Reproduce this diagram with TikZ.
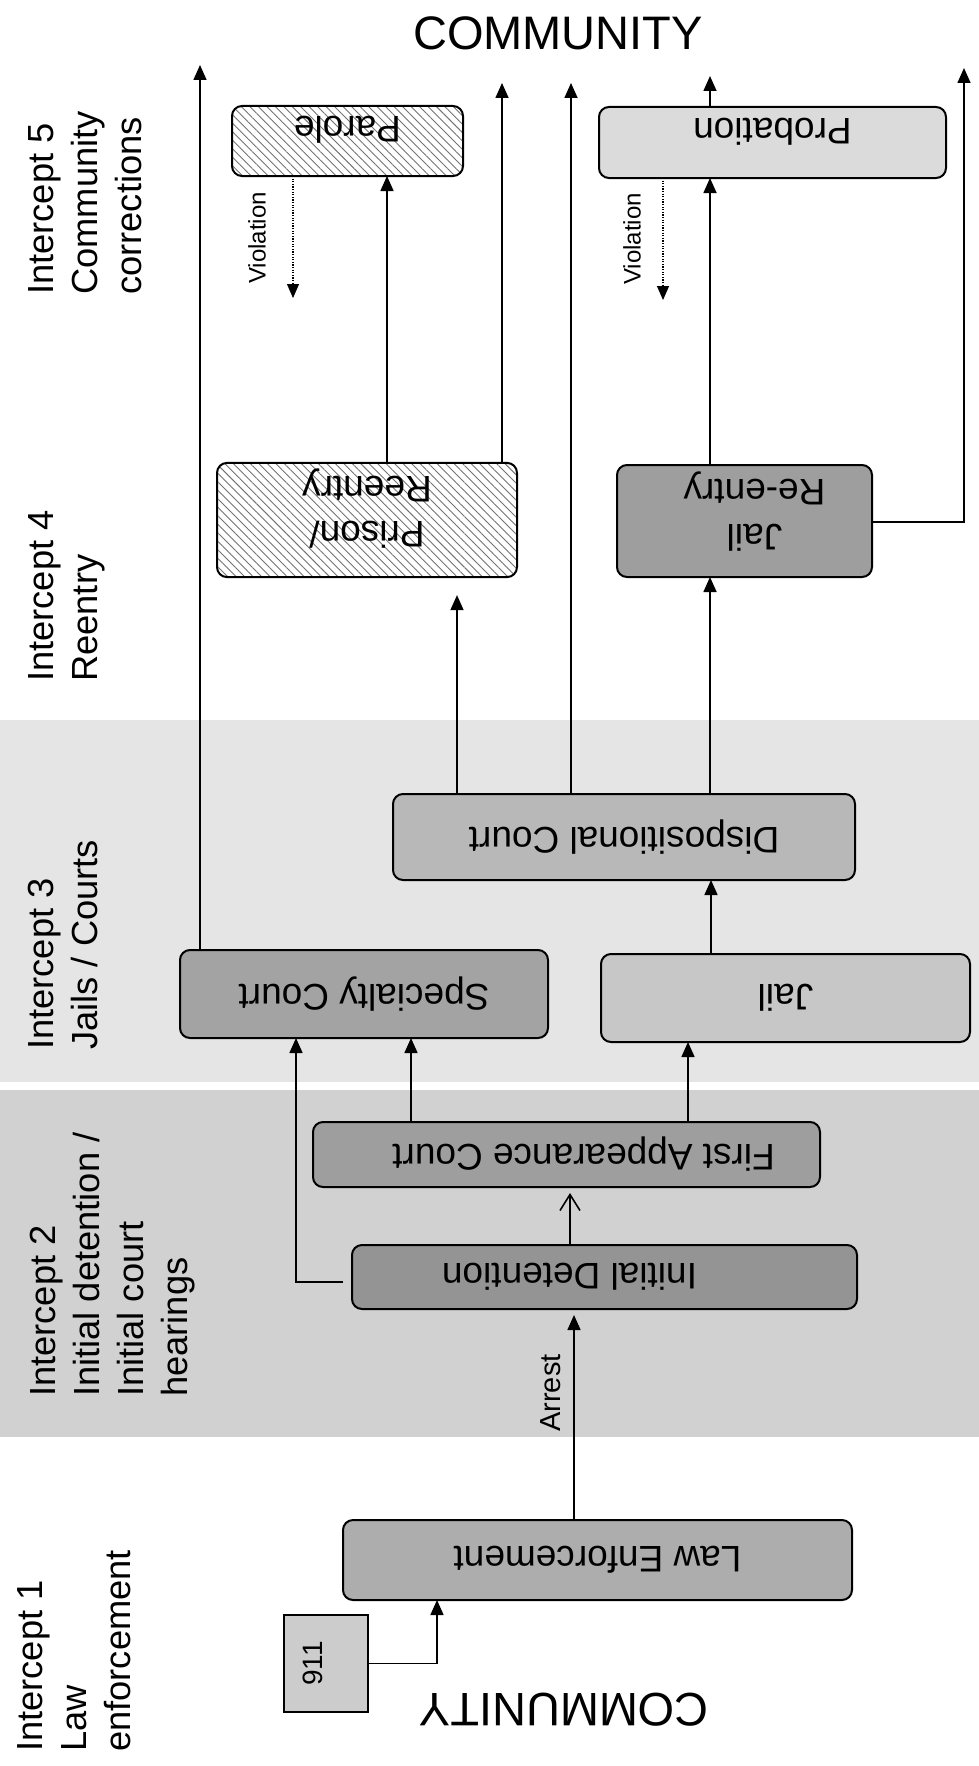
\documentclass[tikz,border=0pt]{standalone}
\usepackage{fontspec}
\setmainfont{Liberation Sans}
\usepackage{graphicx}
\usetikzlibrary{arrows.meta,patterns.meta}
\newcommand{\udtext}[1]{\rotatebox[origin=c]{180}{#1}}
\newcommand{\upby}[1]{\rule[-#1]{0pt}{0pt}}
\newcommand{\twoline}[2]{\begin{tabular}{@{}c@{}}#1\\#2\end{tabular}}
\begin{document}
\begin{tikzpicture}[x=1pt,y=-1pt,
  box/.style={draw, line width=2pt, rounded corners=10pt, inner sep=0pt, outer sep=0pt, align=center, font=\fontsize{37}{45}\selectfont},
  hatch/.style={preaction={fill=white}, pattern={Lines[angle=-45,distance=6pt,line width=0.9pt]}, pattern color=black!55},
  arr/.style={line width=1.6pt, -{Triangle[length=15pt,width=13pt]}},
  oarr/.style={line width=1.6pt, -{Straight Barb[length=16pt,width=20pt]}},
  varr/.style={line width=1.1pt, dash pattern=on 1.2pt off 1.4pt, -{Triangle[length=14pt,width=12pt]}},
  lab/.style={rotate=90, align=left, anchor=north west, inner sep=0pt, font=\fontsize{36.3}{44}\selectfont},
]
\useasboundingbox (0,0) rectangle (979,1766);
\fill[white] (0,0) rectangle (979,1766);
% intercept bands
\fill[black!10] (0,720) rectangle (979,1082);
\fill[black!18] (0,1090) rectangle (979,1437);

% headings
\node[font=\fontsize{47}{50}\selectfont, anchor=base, inner sep=0pt] (commT) at (558,50) {COMMUNITY};
\node[font=\fontsize{47}{50}\selectfont, anchor=base, inner sep=0pt, rotate=180] (commB) at (564,1693) {COMMUNITY};

% intercept labels
\node[lab] (I1) at (17,1752) {Intercept 1\\Law\\enforcement};
\node[lab] (I2) at (30,1397) {Intercept 2\\Initial detention /\\Initial court\\hearings};
\node[lab] (I3) at (28,1050) {Intercept 3\\Jails / Courts};
\node[lab] (I4) at (28,682) {Intercept 4\\Reentry};
\node[lab] (I5) at (28,295) {Intercept 5\\Community\\corrections};

% boxes
\node[box, fill=black!32, minimum width=509pt, minimum height=80pt] (LE) at (597.5,1560) {\udtext{Law Enforcement}};
\node[box, fill=black!42, minimum width=505pt, minimum height=64pt] (ID) at (604.5,1277) {\udtext{Initial Detention}\hspace*{70pt}};
\node[box, fill=black!38, minimum width=507pt, minimum height=65pt] (FA) at (566.5,1154.5) {\hspace*{34pt}\udtext{First Appearance Court}};
\node[box, fill=black!36, minimum width=368pt, minimum height=88pt] (Spec) at (364,994) {\udtext{Specialty Court}};
\node[box, fill=black!22, minimum width=369pt, minimum height=88pt] (Jail) at (785.5,998) {\udtext{Jail}};
\node[box, fill=black!28, minimum width=462pt, minimum height=86pt] (Disp) at (624,837) {\udtext{Dispositional Court}};
\node[box, hatch, minimum width=300pt, minimum height=114pt] (Prison) at (367,520) {\udtext{\twoline{Prison/}{Reentry}}\upby{63pt}};
\node[box, fill=black!38, minimum width=255pt, minimum height=112pt] (JR) at (744.5,521) {\hspace*{20pt}\udtext{\twoline{Jail}{Re-entry}}\upby{58pt}};
\node[box, hatch, minimum width=231pt, minimum height=70pt] (Parole) at (347.5,141) {\udtext{Parole}\upby{22pt}};
\node[box, fill=black!14, minimum width=347pt, minimum height=71pt] (Prob) at (772.5,142.5) {\udtext{Probation}\upby{21pt}};
\node[draw, line width=2pt, fill=black!20, minimum width=84pt, minimum height=97pt, inner sep=0pt, font=\fontsize{28}{34}\selectfont] (n911) at (326,1663.5) {\rotatebox[origin=c]{90}{911}\hspace*{26pt}};

% edge labels
\node[rotate=90, font=\fontsize{29}{34}\selectfont, inner sep=0pt] (arrest) at (551,1393) {Arrest};
\node[rotate=90, font=\fontsize{24}{28}\selectfont, inner sep=0pt] (viol1) at (257,238) {Violation};
\node[rotate=90, font=\fontsize{24}{28}\selectfont, inner sep=0pt] (viol2) at (632,239) {Violation};

% helper coordinates
\coordinate (xa) at (574,0);
\coordinate (xb) at (570,0);
\coordinate (xc) at (296,0);
\coordinate (xd) at (411,0);
\coordinate (xe) at (688,0);
\coordinate (xf) at (711,0);
\coordinate (xg) at (200,0);
\coordinate (xh) at (457,0);
\coordinate (xi) at (571,0);
\coordinate (xj) at (710,0);
\coordinate (xk) at (387,0);
\coordinate (xl) at (502,0);
\coordinate (xm) at (293,0);
\coordinate (xn) at (663,0);
\coordinate (xo) at (964,0);
\coordinate (xp) at (437,0);
\coordinate (yc) at (0,1282);
\coordinate (yo) at (0,522);
\coordinate (c1) at (200,65);
\coordinate (c2) at (571,83);
\coordinate (c3) at (502,83);
\coordinate (c4) at (710,76);
\coordinate (c5) at (964,68);
\coordinate (v1) at (293,298);
\coordinate (v2) at (663,300);

% connectors
\draw[arr] (n911.east) -- (n911.east -| xp) -- (LE.south -| xp);
\draw[arr, shorten >=6pt] (LE.north -| xa) -- (ID.south -| xa);
\draw[oarr, shorten >=6pt] (ID.north -| xb) -- (FA.south -| xb);
\draw[arr, shorten <=9pt] (ID.west |- yc) -- (xc |- yc) -- (Spec.south -| xc);
\draw[arr] (FA.north -| xd) -- (Spec.south -| xd);
\draw[arr] (FA.north -| xe) -- (Jail.south -| xe);
\draw[arr] (Jail.north -| xf) -- (Disp.south -| xf);
\draw[arr] (Spec.north -| xg) -- (c1);
\draw[arr, shorten >=18pt] (Disp.north -| xh) -- (Prison.south -| xh);
\draw[arr] (Disp.north -| xi) -- (c2);
\draw[arr] (Disp.north -| xj) -- (JR.south -| xj);
\draw[arr] (Prison.north -| xk) -- (Parole.south -| xk);
\draw[arr] (Prison.north -| xl) -- (c3);
\draw[varr] (Parole.south -| xm) -- (v1);
\draw[arr] (JR.north -| xj) -- (Prob.south -| xj);
\draw[arr] (Prob.north -| xj) -- (c4);
\draw[arr] (JR.east |- yo) -- (xo |- yo) -- (c5);
\draw[varr] (Prob.south -| xn) -- (v2);
\end{tikzpicture}
\end{document}
